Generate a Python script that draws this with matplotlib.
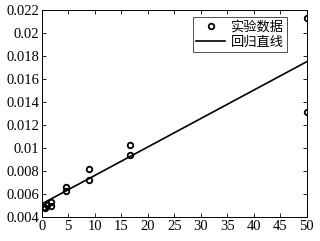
import matplotlib
matplotlib.use("Agg")
import matplotlib.pyplot as plt
import numpy as np

plt.rcParams['font.family'] = ['Liberation Serif', 'Noto Sans CJK SC']

x_data = [0.5, 0.6, 1.0, 1.67, 1.67, 4.5, 4.5, 9.0, 9.0, 16.67, 16.67, 50.0, 50.0]
y_data = [0.0049, 0.0048, 0.0051, 0.0053, 0.0050, 0.0066, 0.0063,
          0.0082, 0.0072, 0.0103, 0.0094, 0.0213, 0.0131]
line_x = [0, 50]
line_y = [0.00516, 0.01751]

xticks = list(range(0, 51, 5))
yticks = [0.004, 0.006, 0.008, 0.01, 0.012, 0.014, 0.016, 0.018, 0.02, 0.022]
ytick_labels = ['0.004', '0.006', '0.008', '0.01', '0.012', '0.014', '0.016', '0.018', '0.02', '0.022']

fig = plt.figure(figsize=(3.2, 2.41), dpi=100)
ax = fig.add_axes([41.7/320, 1 - 217.3/241, (306.7-41.7)/320, (217.3-10)/241])

ax.plot(x_data, y_data, 'o', mfc='none', mec='black', ms=4.0, mew=1.3, label='实验数据')
ax.plot(line_x, line_y, '-', color='black', lw=1.2, label='回归直线')

ax.set_xlim(0, 50)
ax.set_ylim(0.004, 0.022)
ax.set_xticks(xticks)
ax.set_xticklabels([str(t) for t in xticks])
ax.set_yticks(yticks)
ax.set_yticklabels(ytick_labels)
ax.tick_params(direction='in', length=3, width=0.6, labelsize=10.5, pad=2,
               top=True, right=True)
for s in ax.spines.values():
    s.set_linewidth(0.7)

leg = ax.legend(loc='upper right', bbox_to_anchor=(0.925, 0.965), fontsize=9.5,
                frameon=True, fancybox=False, edgecolor='black',
                handlelength=2.2, handletextpad=0.4, borderpad=0.25,
                labelspacing=0.15, borderaxespad=0)
leg.get_frame().set_linewidth(0.6)
for t in leg.get_texts():
    t.set_family(['Noto Sans CJK SC'])

fig.savefig('out.png', dpi=100)
